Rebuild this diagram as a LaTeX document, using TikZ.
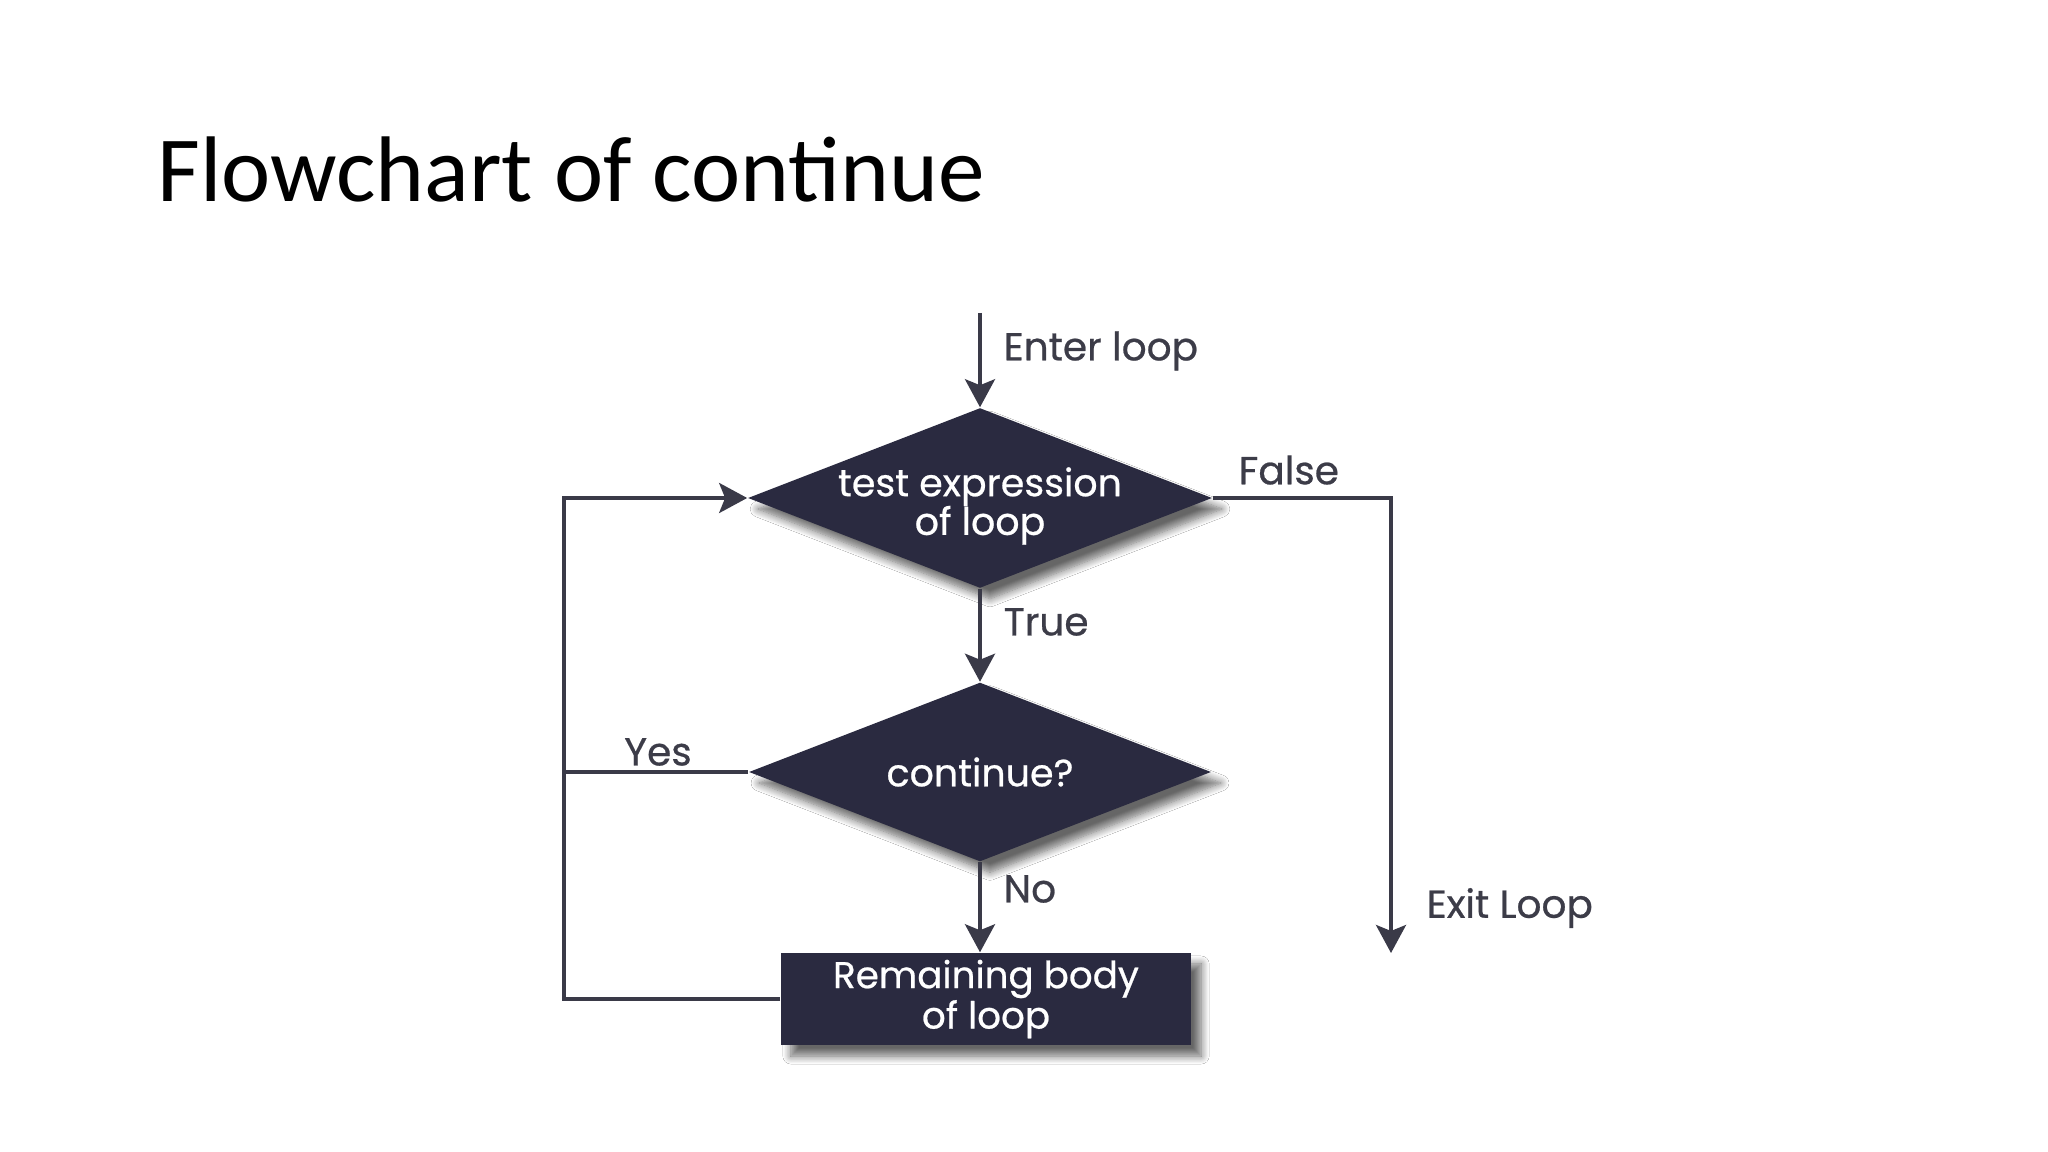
\documentclass[tikz,border=0pt]{standalone}
\usepackage{fontspec}
\setmainfont{Carlito}
\newfontfamily\labfont{Poppins}[FakeBold=0.6]
\usetikzlibrary{shapes.geometric,arrows.meta,shadows.blur}
\definecolor{boxfill}{HTML}{2A2A40}
\definecolor{linecol}{HTML}{3A3A48}
\definecolor{labcol}{HTML}{3C3C48}
\begin{document}
\begin{tikzpicture}[x=0.01cm,y=-0.01cm,
  conn/.style={draw=linecol,line width=1pt},
  arr/.style={conn,-{Stealth[length=0.28cm,width=0.30cm,inset=0.06cm]}},
  myshadow/.style={blur shadow={shadow xshift=0.10cm,shadow yshift=-0.11cm,shadow opacity=60,shadow blur steps=10,shadow blur radius=0.08cm}},
  decision/.style={diamond,aspect=2.58,fill=boxfill,inner xsep=-0.5cm,inner ysep=-0.2cm,text=white,align=center,
    font=\labfont\fontsize{10.8pt}{13pt}\selectfont,myshadow},
  procbox/.style={rectangle,fill=boxfill,inner sep=0pt,text=white,align=center,
    font=\labfont\fontsize{10.6pt}{13pt}\selectfont,myshadow},
  lab/.style={text=labcol,inner sep=0pt,font=\labfont\fontsize{11.1pt}{12pt}\selectfont}]
\useasboundingbox[fill=white] (0,0) rectangle (2048,1152);
\node[anchor=base west,inner sep=0pt,font=\fontsize{26.5pt}{32pt}\selectfont] (title) at (157,202) {Flowchart of continue};

\node[decision,minimum width=4.64cm,minimum height=1.80cm] (d1) at (980,498) {\raisebox{-0.18cm}[0pt][0pt]{\begin{tabular}{@{}c@{}}test expression\\[-2pt]of loop\end{tabular}}};
\node[decision,minimum width=4.62cm,minimum height=1.79cm] (d2) at (980,772) {continue?};
\node[procbox,minimum width=4.10cm,minimum height=0.92cm] (r) at (986,999) {Remaining body\\[-1.5pt]of loop};

\coordinate (enter) at (980,313);
\coordinate (fcorner) at (1391,498);
\coordinate (exit) at (1391,953);
\coordinate (lb) at (564,999);
\coordinate (lt) at (564,498);
\coordinate (ly) at (564,772);

\draw[arr] (enter) -- (d1.north);
\draw[arr] (d1.south) -- (d2.north);
\draw[arr] (d2.south) -- (d2.south |- r.north);
\draw[arr] (d1.east) -- (fcorner) -- (exit);
\draw[arr] (r.west) -- (lb) -- (lt) -- (d1.west);
\draw[conn] (d2.west) -- (ly);

\node[lab,anchor=west] (tenter) at (1003,351) {Enter loop};
\node[lab,anchor=west] (tfalse) at (1238,470) {False};
\node[lab,anchor=west] (ttrue) at (1003,622) {True};
\node[lab] (tyes) at (658,752) {Yes};
\node[lab,anchor=west] (tno) at (1003,889) {No};
\node[lab,anchor=west] (texit) at (1426,908) {Exit Loop};
\end{tikzpicture}
\end{document}
